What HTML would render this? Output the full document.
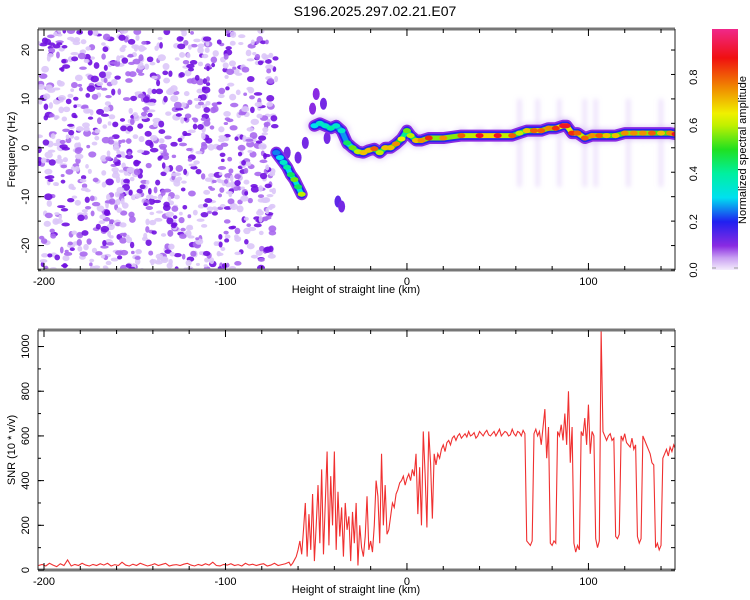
<!DOCTYPE html>
<html><head><meta charset="utf-8"><style>
body{margin:0;background:#fff;}
svg{display:block;font-family:"Liberation Sans",sans-serif;}
</style></head><body>
<svg id="chart" width="750" height="600" viewBox="0 0 750 600" xmlns="http://www.w3.org/2000/svg">
<defs>
<linearGradient id="cbar" x1="0" y1="1" x2="0" y2="0">
<stop offset="0" stop-color="#f4ecfc"/><stop offset="0.05" stop-color="#c9a0f2"/>
<stop offset="0.1" stop-color="#8a2be2"/><stop offset="0.2" stop-color="#2020f0"/>
<stop offset="0.3" stop-color="#00e0f0"/><stop offset="0.4" stop-color="#00f0a0"/>
<stop offset="0.5" stop-color="#20e020"/><stop offset="0.6" stop-color="#c0f000"/>
<stop offset="0.65" stop-color="#f0f000"/><stop offset="0.75" stop-color="#f09000"/>
<stop offset="0.88" stop-color="#f01010"/><stop offset="1" stop-color="#f0288a"/>
</linearGradient>
<filter id="blur2"><feGaussianBlur stdDeviation="2.5"/></filter>
<clipPath id="clipTop"><rect x="38" y="29" width="637" height="241"/></clipPath>
<clipPath id="clipBot"><rect x="38" y="330" width="637" height="240"/></clipPath>
</defs>
<text x="375" y="16" font-size="14" text-anchor="middle">S196.2025.297.02.21.E07</text>
<g id="topPanel"></g>
<g id="botPanel"></g>
<g id="cb">
<rect x="712" y="29" width="26" height="241" fill="url(#cbar)"/>
<text transform="translate(746,150) rotate(-90)" font-size="11" text-anchor="middle">Normalized spectral amplitude</text>
</g>
</svg>
<script>
// ---- data ----
const ridgeKm   = [-51,-48,-45,-42,-39,-36,-33,-30,-27,-24,-21,-18,-15,-12,-9,-6,-3,0,2,5,8,12,20,30,40,50,58,62,66,70,74,78,82,86,88,91,94,98,102,106,110,115,120,125,130,135,140,145,148];
const ridgeHz   = [4.5,5,4.5,4,4.5,3.5,1,0,-0.8,-1,-0.5,-0.2,-1,0,0,0.8,1.8,3.5,2.5,1.5,1.5,2,2,2.5,2.5,2.5,2.5,3,3.5,3.5,3.5,4,4,4.5,4.5,3,3,2,2.5,2.5,2.5,2.5,3,3,3,3,3,3,2.8];
const ridgeAmp  = [0.3,0.35,0.35,0.4,0.35,0.35,0.45,0.55,0.6,0.7,0.7,0.8,0.6,0.7,0.7,0.75,0.65,0.55,0.6,0.7,0.75,0.85,0.75,0.8,0.9,0.9,0.8,0.6,0.7,0.8,0.8,0.75,0.85,0.9,0.9,0.85,0.8,0.8,0.75,0.8,0.7,0.7,0.75,0.75,0.75,0.8,0.7,0.75,0.9];
const branchKm  = [-72,-70,-68,-66,-64,-62,-60,-58];
const branchHz  = [-1,-2,-3,-4,-5.5,-6.5,-8,-9.5];
const branchAmp = [0.25,0.3,0.35,0.4,0.45,0.55,0.45,0.6];
const blobKm    = [-66,-60,-56,-52,-50,-46,-44,-38,-36,-34];
const blobHz    = [-1,-2,1,8,11,9,2,-11,-12,1];
const blobAmp   = [0.12,0.12,0.12,0.1,0.1,0.12,0.12,0.14,0.12,0.15];
const xTicks    = [-200,-100,0,100];
const topYTicks = [-20,-10,0,10,20];
const botYTicks = [0,200,400,600,800,1000];
const cbTicks   = [0.0,0.2,0.4,0.6,0.8];
const snrFlat = [20,25,18,30,22,15,28,20,45,18,25,20,30,22,18,25,20,28,22,30,18,24,20,35,22,18,26,20,30,24,18,22,28,20,25,30,18,22,24,20,26,30,22,18,25,20,28,22,35,20,18,25,22,28,20,24,18,30,22,26,20,25,28,18,22,30,20,24,28,35];
const snrFlatStart = -203;
const snrActive = [20,30,45,60,90,130,70,180,
300,60,250,90,340,40,200,380,120,450,70,300,530,110,420,200,530,
90,350,150,280,60,300,180,240,40,260,120,300,20,200,100,
60,150,330,90,130,80,200,400,330,120,
520,200,380,160,180,240,300,
280,340,360,390,400,420,380,410,
430,400,450,420,520,250,460,200,620,430,
190,620,480,230,520,
470,520,500,540,560,530,570,580,560,590,600,580,600,610,590,
600,610,595,620,600,605,615,590,600,620,610,600,615,625,605,600,610,620,600,615,630,600,610,620,615,600,605,630,610,600,620,615,600,625,610,
130,120,110,130,
610,630,600,620,560,640,720,500,640,
120,110,130,120,
620,600,650,580,700,560,800,480,640,
120,80,110,90,
620,600,680,560,740,520,620,600,
140,100,130,
1070,620,600,580,
600,610,580,590,
150,140,160,
600,580,610,570,560,550,590,540,560,
150,120,140,
600,580,560,540,520,480,470,
100,120,90,110,
500,520,540,510,550,530,560,540];
const snrActiveStart = -64;

// ---- axes ----
const X0=38,X1=675,KM0=-203.3,KM1=147.7;
const xs = k => X0 + (k-KM0)/(KM1-KM0)*(X1-X0);
const TY0=29,TY1=270,HZ0=24.3,HZ1=-25;
const ty = h => TY0 + (HZ0-h)/(HZ0-HZ1)*(TY1-TY0);
const BY0=330,BY1=570,S0=1074,S1=0;
const by = v => BY0 + (S0-v)/(S0-S1)*(BY1-BY0);
const NS="http://www.w3.org/2000/svg";
function mk(tag,attrs,parent){const e=document.createElementNS(NS,tag);for(const k in attrs)e.setAttribute(k,attrs[k]);parent.appendChild(e);return e;}
function cmap(a){const st=[[0,[244,236,252]],[0.05,[201,160,242]],[0.1,[138,43,226]],[0.2,[32,32,240]],[0.3,[0,224,240]],[0.4,[0,240,160]],[0.5,[32,224,32]],[0.6,[192,240,0]],[0.65,[240,240,0]],[0.75,[240,144,0]],[0.88,[240,16,16]],[1,[240,40,138]]];
 for(let i=1;i<st.length;i++){if(a<=st[i][0]){const t=(a-st[i-1][0])/(st[i][0]-st[i-1][0]);const c=st[i-1][1].map((v,j)=>Math.round(v+(st[i][1][j]-v)*t));return `rgb(${c.join(',')})`;}}return 'rgb(240,40,138)';}

const topG=document.getElementById('topPanel'), botG=document.getElementById('botPanel');

// ---- spectrogram ----
const tg=mk('g',{'clip-path':'url(#clipTop)'},topG);
// noise texture on the left (deterministic)
let seed=12345; const rnd=()=>{seed=(seed*16807)%2147483647;return seed/2147483647;};
const ng=mk('g',{},tg);


for(let i=0;i<1100;i++){
  const k=KM0+rnd()*(-72-KM0); const h=HZ1+rnd()*(HZ0-HZ1);
  const r=rnd(); const col=r<0.45?'#dcc6f8':(r<0.75?'#a868ee':'#7010e0');
  mk('ellipse',{cx:xs(k),cy:ty(h),rx:1.8+rnd()*2.5,ry:1.5+rnd()*2,fill:col,opacity:0.9},ng);
}
// faint haze around ridge
const hz=mk('g',{filter:'url(#blur2)'},tg);
for(let i=0;i<ridgeKm.length;i++){mk('ellipse',{cx:xs(ridgeKm[i]),cy:ty(ridgeHz[i]),rx:9,ry:8,fill:'#d9c2f7',opacity:0.5},hz);}
[62,72,84,98,104,122,140].forEach(k=>mk('rect',{x:xs(k)-2,y:ty(10),width:4,height:ty(-8)-ty(10),fill:'#cfb2f5',opacity:0.4},hz));
// blobs
for(let i=0;i<blobKm.length;i++){
  const b=mk('ellipse',{cx:xs(blobKm[i]),cy:ty(blobHz[i]),rx:3.5,ry:6,fill:cmap(blobAmp[i])},tg);
  
  
}
function ridge(kmA,hzA,ampA,name){
  const pts=kmA.map((k,i)=>xs(k)+','+ty(hzA[i])).join(' ');
  const g=mk('g',{},tg);
  
  
  mk('polyline',{points:pts,fill:'none',stroke:'#8a2be2',"stroke-width":12,"stroke-linejoin":'round',"stroke-linecap":'round'},g);
  mk('polyline',{points:pts,fill:'none',stroke:'#2424f0',"stroke-width":8.5,"stroke-linejoin":'round',"stroke-linecap":'round'},g);
  for(let i=0;i<kmA.length-1;i++){
    mk('line',{x1:xs(kmA[i]),y1:ty(hzA[i]),x2:xs(kmA[i+1]),y2:ty(hzA[i+1]),stroke:cmap(Math.min(ampA[i],ampA[i+1])*0.75),"stroke-width":5,"stroke-linecap":'round'},g);
  }
  for(let i=0;i<kmA.length;i++){
    const d=mk('ellipse',{cx:xs(kmA[i]),cy:ty(hzA[i]),rx:4,ry:2.5,fill:cmap(ampA[i])},g);
    
    
  }
}
ridge(branchKm,branchHz,branchAmp,'branch-ridge');
ridge(ridgeKm,ridgeHz,ridgeAmp,'main-ridge');

// ---- SNR line ----
const bg=mk('g',{'clip-path':'url(#clipBot)'},botG);
const pts=[];
snrFlat.forEach((v,i)=>pts.push(xs(snrFlatStart+2*i)+','+by(v)));
snrActive.forEach((v,i)=>pts.push(xs(snrActiveStart+i)+','+by(v)));
const line=mk('polyline',{points:pts.join(' '),fill:'none',stroke:'#f03030',"stroke-width":1.1},bg);



// ---- frames & ticks ----
function frame(g,y0,y1,yTicks,yf,minorStep,yMinor0,yMinor1,ylabel,name){
  const f=mk('g',{},g);
  
  
  mk('line',{x1:X0,y1:y0,x2:X1,y2:y0,stroke:'#777',"stroke-width":3},f);
  mk('line',{x1:X0,y1:y1,x2:X1,y2:y1,stroke:'#777',"stroke-width":3},f);
  mk('line',{x1:X0,y1:y0,x2:X0,y2:y1,stroke:'#222',"stroke-width":1},f);
  mk('line',{x1:X1,y1:y0,x2:X1,y2:y1,stroke:'#222',"stroke-width":1},f);
  for(let k=-200;k<=140;k+=20){const maj=k%100===0;const L=maj?7:4;
    mk('line',{x1:xs(k),y1:y0,x2:xs(k),y2:y0+L,stroke:'#000'},f);
    mk('line',{x1:xs(k),y1:y1,x2:xs(k),y2:y1-L,stroke:'#000'},f);}
  for(let v=yMinor0;v<=yMinor1;v+=minorStep){const y=yf(v);
    mk('line',{x1:X0,y1:y,x2:X0+3,y2:y,stroke:'#000'},f);
    mk('line',{x1:X1,y1:y,x2:X1-4,y2:y,stroke:'#000'},f);}
  yTicks.forEach(v=>{const y=yf(v);
    mk('line',{x1:X0,y1:y,x2:X0+6,y2:y,stroke:'#000'},f);
    const t=mk('text',{transform:`translate(29,${y}) rotate(-90)`,"font-size":11,"text-anchor":'middle'},f);t.textContent=v;
    
    });
  xTicks.forEach(k=>{const t=mk('text',{x:xs(k),y:y1+15,"font-size":11,"text-anchor":'middle'},f);t.textContent=k;
    
    });
  const xl=mk('text',{x:356,y:y1+23,"font-size":11,"text-anchor":'middle'},f);xl.textContent='Height of straight line (km)';
  
  
  const yl=mk('text',{transform:`translate(15,${(y0+y1)/2}) rotate(-90)`,"font-size":11,"text-anchor":'middle'},f);yl.textContent=ylabel;
  
  
}
frame(topG,TY0,TY1,topYTicks,ty,5,-25,20,'Frequency (Hz)','top-axes');
frame(botG,BY0,BY1,botYTicks,by,100,0,1000,'SNR (10 * v/v)','bottom-axes');

// colorbar ticks
const cb=document.getElementById('cb');
cbTicks.forEach(v=>{const y=270-v*241;
  const t=mk('text',{transform:`translate(697,${y}) rotate(-90)`,"font-size":11,"text-anchor":'middle'},cb);t.textContent=v.toFixed(1);
  
  });
mk('line',{x1:712,y1:268,x2:716,y2:268,stroke:'#999'},cb);
mk('line',{x1:734,y1:268,x2:738,y2:268,stroke:'#999'},cb);
</script>
</body></html>
